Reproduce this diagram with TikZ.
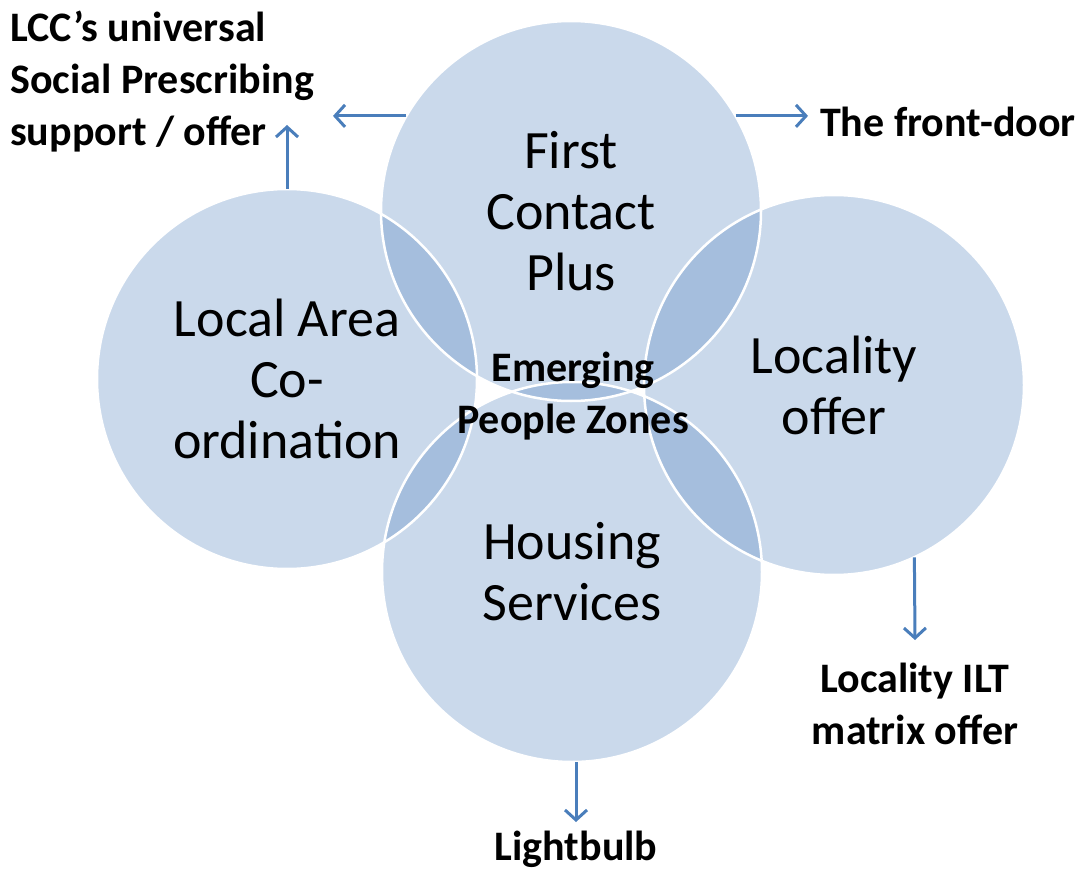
\documentclass[tikz,border=0pt]{standalone}
\usepackage{fontspec}
\setmainfont{Carlito}
\usetikzlibrary{arrows.meta}
\definecolor{vennblue}{RGB}{79,129,189}
\definecolor{linkblue}{RGB}{74,126,187}

\begin{document}
\begin{tikzpicture}[x=1pt,y=-1pt,
            venn/.style={circle,minimum size=380pt,inner sep=0pt,fill=vennblue,fill opacity=0.3,text opacity=1,align=center,font=\fontsize{54}{61}\selectfont},
            rim/.style={draw=white,line width=2.5pt},
            tag/.style={inner sep=0pt,font=\fontsize{42}{52}\selectfont\bfseries},
            link/.style={draw=linkblue,line width=3pt,-{Straight Barb[length=10pt,width=22pt,line width=3pt]}}
            ]
            \useasboundingbox (0,0) rectangle (1082,869);
            % the four circles
            \node[venn] (fcp) at (571,211) {First\\Contact\\Plus};
            \node[venn] (lac) at (287,379) {Local Area\\Co-\\ordination};
            \node[venn] (loc) at (834,385) {Locality\\offer};
            \node[venn] (hs) at (572,572) {Housing\\Services};
            \foreach \c in {fcp,lac,loc,hs}
                \draw[rim] (\c.center) circle[radius=190pt];
            \node[tag,align=center] (epz) at (573,396) {Emerging\\People Zones};
            % outer labels
            \node[tag,align=left,anchor=west] (lcc) at (10,82) {LCC’s universal\\Social Prescribing\\support / offer};
            \node[tag,anchor=west] (door) at (820,122) {The front-door};
            \node[tag,align=center] (ilt) at (915,704) {Locality ILT\\matrix offer};
            \node[tag] (bulb) at (576,849) {Lightbulb};
            \coordinate (lcc-in) at (333,118);
            \coordinate (lcc-up) at (287,125);
            \coordinate (door-in) at (808,118);
            \coordinate (ilt-in) at (915,640);
            \coordinate (bulb-in) at (576,822);
            \draw[link] (fcp.150) -- (lcc-in |- fcp.150);
            \draw[link] (lac.north) -- (lcc-up);
            \draw[link] (fcp.30) -- (door-in |- fcp.30);
            \draw[link] (loc.-65) -- (ilt-in);
            \draw[link] (hs.south -| bulb-in) -- (bulb-in);
        \end{tikzpicture}
\end{document}
